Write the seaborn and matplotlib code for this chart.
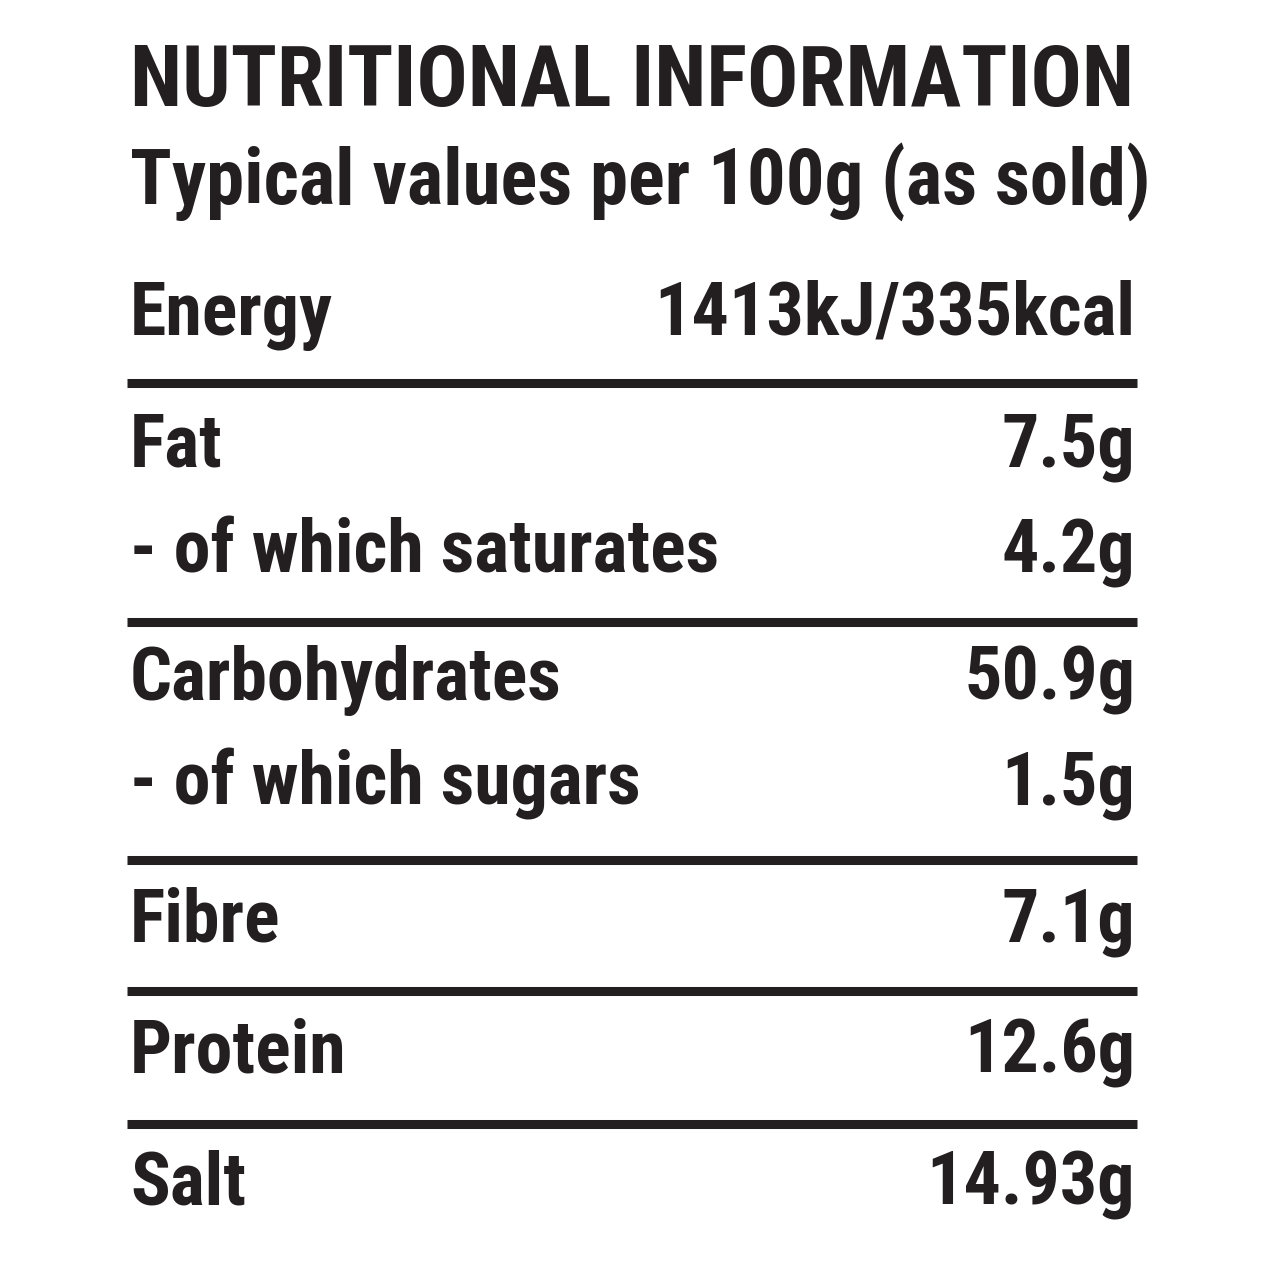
import numpy as np
import pandas as pd
import matplotlib
matplotlib.use("Agg")
import matplotlib.pyplot as plt
from matplotlib import font_manager as fm
import seaborn as sns

# ---------------- data ----------------
title = "NUTRITIONAL INFORMATION"
subtitle = "Typical values per 100g (as sold)"
nutrients = ["Energy", "Fat", "- of which saturates", "Carbohydrates",
             "- of which sugars", "Fibre", "Protein", "Salt"]
amounts = ["1413kJ/335kcal", "7.5g", "4.2g", "50.9g", "1.5g", "7.1g",
           "12.6g", "14.93g"]

# ---------------- layout (pixels) ----------------
W = H = 1280
left_x = 130
right_x = 1135
title_base, title_cap = 118, 85
subtitle_base, subtitle_cap = 218, 83
row_base = [350, 482, 588, 715, 820, 957, 1088, 1220]
row_cap = 83
rule_y = [383, 622, 860, 991, 1124]
rule_x0, rule_x1 = 127, 1137
label_w = [212, 95, 655, 453, 563, 155, 218, 118]
amount_w = [441, 120, 123, 155, 103, 108, 143, 183]
ink = "#231f20"

sns.set_theme(style="white")

names = {f.name for f in fm.fontManager.ttflist}
if "Roboto Condensed" in names:
    fam, stretch = "Roboto Condensed", "normal"
elif "Liberation Sans Narrow" in names:
    fam, stretch = "Liberation Sans Narrow", "normal"
else:
    fam, stretch = "DejaVu Sans", "condensed"
plt.rcParams["font.family"] = [fam, "DejaVu Sans"]
CAP = 0.711  # cap height / em

fig = plt.figure(figsize=(W / 100, H / 100), dpi=100)
fig.patch.set_facecolor("white")
ax = fig.add_axes([0, 0, 1, 1])
ax.set_xlim(0, W)
ax.set_ylim(H, 0)
ax.axis("off")
renderer = fig.canvas.get_renderer()

REF = 100.0
def width_at(s, size=REF):
    t = ax.text(0, 0, s, fontsize=size, fontweight="bold", fontstretch=stretch)
    w = t.get_window_extent(renderer).width
    t.remove()
    return w

def cap_size(cap_px):
    return cap_px / CAP * 72 / 100

def cap_px(size):
    return size * 100 / 72 * CAP

ratios = [lw / width_at(s) for s, lw in zip(nutrients, label_w)] + \
         [aw / width_at(s) for s, aw in zip(amounts, amount_w)]
row_fs = min(cap_size(row_cap), float(np.exp(np.mean(np.log(ratios)))) * REF * 1.05)
for s, a in zip(nutrients, amounts):
    gap = (right_x - left_x) - 25
    tot = (width_at(s) + width_at(a)) * row_fs / REF
    if tot > gap:
        row_fs *= gap / tot

title_fs = min(cap_size(title_cap), (right_x - left_x) / width_at(title) * REF)
sub_fs = min(cap_size(subtitle_cap), (1150 - left_x) / width_at(subtitle) * REF)

def shift(base, ref_cap, size):
    # keep the visual centre of the capitals where the reference has it
    return base - (ref_cap - cap_px(size)) / 2

ax.text(left_x, shift(title_base, title_cap, title_fs), title, fontsize=title_fs,
        fontweight="bold", fontstretch=stretch, color=ink, ha="left", va="baseline")
ax.text(left_x, shift(subtitle_base, subtitle_cap, sub_fs), subtitle, fontsize=sub_fs,
        fontweight="bold", fontstretch=stretch, color=ink, ha="left", va="baseline")

df = pd.DataFrame({"nutrient": nutrients, "amount": amounts, "y": row_base})
for _, r in df.iterrows():
    y = shift(r["y"], row_cap, row_fs)
    ax.text(left_x, y, r["nutrient"], fontsize=row_fs, fontweight="bold",
            fontstretch=stretch, color=ink, ha="left", va="baseline")
    ax.text(right_x, y, r["amount"], fontsize=row_fs, fontweight="bold",
            fontstretch=stretch, color=ink, ha="right", va="baseline")

ax.hlines(rule_y, rule_x0, rule_x1, color=ink, linewidth=6.5)

fig.savefig("out.png", dpi=100, facecolor="white")
